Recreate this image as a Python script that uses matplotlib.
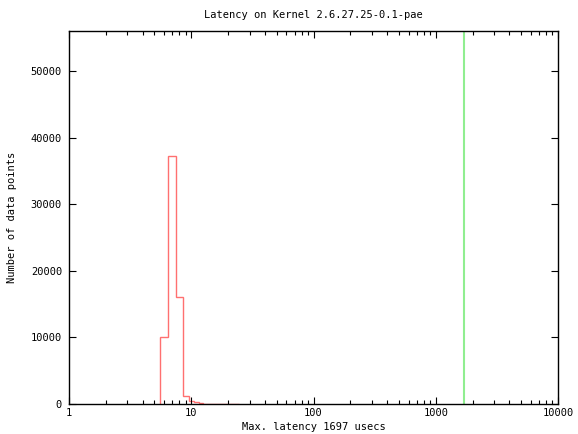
import matplotlib
matplotlib.use('Agg')
import matplotlib.pyplot as plt
import numpy as np
from matplotlib.ticker import LogLocator, FixedLocator, FixedFormatter, NullFormatter

plt.rcParams['font.family'] = ['DejaVu Sans Mono']

# latency histogram (usecs -> number of samples)
latency = [6, 7, 8, 9, 10, 11, 12, 13, 14, 15, 16, 17, 18, 19, 20, 21, 22, 23, 24]
counts = [10000, 37300, 16100, 1250, 500, 250, 100, 0, 0,
          30, 30, 30, 30, 30, 30, 30, 30, 30, 30]
max_latency = 1697

xticks = [1, 10, 100, 1000, 10000]
xtick_labels = ['1', '10', '100', '1000', '10000']
yticks = [0, 10000, 20000, 30000, 40000, 50000]

fig = plt.figure(figsize=(5.78, 4.34), dpi=100)
ax = fig.add_axes([69 / 578, 30 / 434, 489 / 578, 373 / 434])

edges = np.array([latency[0] - 0.5] + [v + 0.5 for v in latency])
ax.stairs(counts, edges, baseline=0, color='#ff7070', lw=1.0)
ax.axvline(max_latency, color='#90ee90', lw=1.5)

ax.set_xscale('log')
ax.set_xlim(1, 10000)
ax.set_ylim(0, 56000)
ax.xaxis.set_major_locator(FixedLocator(xticks))
ax.xaxis.set_major_formatter(FixedFormatter(xtick_labels))
ax.xaxis.set_minor_locator(LogLocator(base=10, subs=np.arange(2, 10)))
ax.xaxis.set_minor_formatter(NullFormatter())
ax.set_yticks(yticks)

ax.tick_params(which='both', direction='in', top=True, right=True,
               labelsize=7.5, width=0.8)
ax.tick_params(which='major', length=5)
ax.tick_params(which='minor', length=3)
ax.tick_params(axis='x', pad=3)
ax.tick_params(axis='y', pad=5)
for s in ax.spines.values():
    s.set_linewidth(1.0)

ax.set_title('Latency on Kernel 2.6.27.25-0.1-pae', fontsize=7.5, pad=9)
ax.set_xlabel('Max. latency %d usecs' % max_latency, fontsize=7.5, labelpad=3)
ax.set_ylabel('Number of data points', fontsize=7.5, labelpad=10)

fig.savefig('out.png', dpi=100)
